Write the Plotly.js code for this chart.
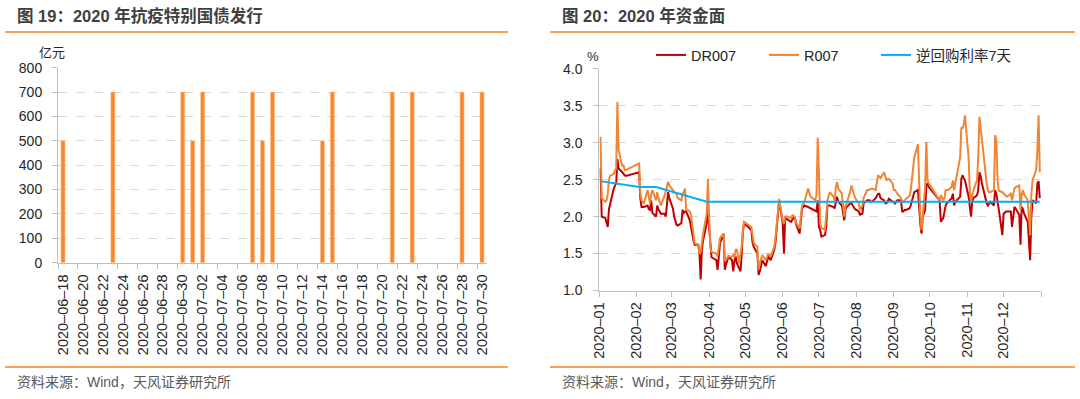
<!DOCTYPE html>
<html><head><meta charset="utf-8">
<script src="https://cdn.plot.ly/plotly-3.0.1.min.js"></script>
<style>html,body{margin:0;padding:0;background:#fff;overflow:hidden;} #chart{width:1080px;height:399px;}</style>
</head><body><div id="chart"></div>
<script>
// ---------- Figure 19: special treasury bond issuance (亿元) ----------
const bondDates = ['2020-06-18','2020-06-23','2020-06-30','2020-07-01','2020-07-02','2020-07-07','2020-07-08',
  '2020-07-09','2020-07-14','2020-07-15','2020-07-21','2020-07-23','2020-07-28','2020-07-30'];
const bondValues = [500,700,700,500,700,700,500,700,500,700,700,700,700,700];
const bondTickDates = ['2020-06-18','2020-06-20','2020-06-22','2020-06-24','2020-06-26','2020-06-28','2020-06-30',
  '2020-07-02','2020-07-04','2020-07-06','2020-07-08','2020-07-10','2020-07-12','2020-07-14','2020-07-16',
  '2020-07-18','2020-07-20','2020-07-22','2020-07-24','2020-07-26','2020-07-28','2020-07-30'];

// ---------- Figure 20: money market rates (%) ----------
const monthTicks = ['2020-01-01','2020-02-01','2020-03-01','2020-04-01','2020-05-01','2020-06-01','2020-07-01',
  '2020-08-01','2020-09-01','2020-10-01','2020-11-01','2020-12-01','2021-01-01'];
const monthTickLabels = ['2020–01','2020–02','2020–03','2020–04','2020–05','2020–06','2020–07',
  '2020–08','2020–09','2020–10','2020–11','2020–12',''];

const rateDays = ['01-02','01-03','01-06','01-07','01-08','01-09','01-10','01-13','01-14','01-15','01-16','01-17',
  '01-20','01-21','01-22','01-23','02-03','02-04','02-05','02-07','02-10','02-11','02-12','02-13','02-14',
  '02-17','02-18','02-19','02-20','02-21','02-24','02-25','02-26','02-27','02-28','03-02','03-03','03-05',
  '03-06','03-09','03-10','03-11','03-12','03-13','03-16','03-17','03-18','03-19','03-20','03-23','03-24',
  '03-25','03-26','03-27','03-30','03-31','04-01','04-02','04-03','04-07','04-08','04-09','04-10','04-13',
  '04-14','04-15','04-17','04-20','04-21','04-22','04-23','04-24','04-26','04-27','04-28','04-29','04-30',
  '05-06','05-07','05-08','05-11','05-12','05-13','05-14','05-15','05-18','05-19','05-20','05-22','05-25',
  '05-26','05-27','05-28','05-29','06-01','06-02','06-03','06-04','06-08','06-09','06-11','06-12','06-15',
  '06-17','06-19','06-22','06-24','06-28','06-29','06-30','07-01','07-02','07-03','07-06','07-07','07-08',
  '07-09','07-10','07-13','07-14','07-15','07-16','07-17','07-20','07-21','07-22','07-23','07-24','07-27',
  '07-28','07-29','07-30','07-31','08-03','08-04','08-05','08-06','08-07','08-10','08-11','08-12','08-13',
  '08-14','08-17','08-18','08-19','08-20','08-21','08-24','08-25','08-26','08-27','08-28','08-31','09-01',
  '09-02','09-03','09-04','09-07','09-08','09-09','09-10','09-11','09-14','09-15','09-16','09-17','09-18',
  '09-21','09-22','09-23','09-24','09-25','09-27','09-28','09-29','09-30','10-09','10-10','10-12','10-13',
  '10-14','10-15','10-16','10-19','10-20','10-21','10-22','10-23','10-26','10-27','10-28','10-29','10-30',
  '11-02','11-03','11-04','11-05','11-06','11-09','11-10','11-11','11-12','11-13','11-16','11-17','11-18',
  '11-19','11-20','11-23','11-24','11-25','11-26','11-27','11-30','12-01','12-02','12-03','12-04','12-07',
  '12-08','12-09','12-10','12-11','12-14','12-15','12-16','12-17','12-18','12-21','12-22','12-23','12-24',
  '12-25','12-28','12-29','12-30','12-31'];
const dr007 = [2.65,2.00,1.98,1.90,1.86,2.10,2.18,2.38,2.42,2.45,2.78,2.65,
  2.60,2.57,2.56,2.55,2.60,2.25,2.13,2.13,2.15,2.10,2.09,2.22,2.05,
  2.00,2.15,2.10,2.07,2.04,2.04,2.00,2.15,2.33,2.25,2.11,2.00,1.89,
  1.88,1.91,2.09,2.05,2.07,2.07,1.95,1.85,1.73,1.68,1.62,1.62,1.50,
  1.15,1.55,1.68,1.91,2.13,1.85,1.59,1.45,1.41,1.28,1.45,1.64,1.77,
  1.28,1.35,1.46,1.41,1.26,1.40,1.46,1.37,1.30,1.26,1.50,1.80,1.91,
  1.82,1.65,1.59,1.50,1.21,1.26,1.35,1.41,1.33,1.40,1.46,1.41,1.55,
  1.65,1.82,2.00,2.22,1.91,1.50,1.98,1.97,1.93,1.96,2.00,1.90,1.77,
  2.11,2.15,2.13,2.11,2.07,2.07,2.22,1.86,1.82,1.73,1.75,1.85,2.15,
  2.15,2.15,2.13,2.11,2.20,2.27,2.20,2.15,2.05,1.95,2.10,2.13,2.18,
  2.18,2.15,2.13,2.10,2.07,2.02,2.04,2.04,2.18,2.22,2.22,2.22,2.20,
  2.20,2.25,2.28,2.31,2.31,2.25,2.22,2.18,2.18,2.22,2.24,2.20,2.20,
  2.18,2.20,2.22,2.22,2.07,2.07,2.09,2.09,2.11,2.15,2.20,2.27,2.33,
  2.36,2.09,1.90,1.77,2.00,2.09,2.42,2.45,2.40,2.22,1.93,1.98,2.10,
  2.15,2.18,2.20,2.25,2.31,2.15,2.20,2.22,2.27,2.51,2.56,2.52,2.49,
  2.27,2.10,2.00,2.20,2.25,2.29,2.36,2.60,2.55,2.45,2.22,2.18,2.15,
  2.18,2.20,2.15,2.36,2.31,2.18,2.10,1.75,2.04,2.05,2.07,2.07,2.07,
  1.86,2.05,2.13,2.11,2.02,1.62,2.13,2.10,2.04,1.93,1.70,1.41,2.00,
  2.22,2.18,2.45,2.48,2.25];
const r007 = [3.08,2.25,2.20,2.22,2.30,2.50,2.55,2.58,2.62,2.65,3.55,2.90,
  2.68,2.70,2.63,2.63,2.72,2.32,2.22,2.18,2.36,2.25,2.18,2.30,2.36,
  2.22,2.33,2.25,2.20,2.15,2.28,2.33,2.40,2.47,2.42,2.36,2.33,2.31,
  2.25,2.22,2.31,2.33,2.38,2.10,2.07,2.02,1.90,1.75,1.64,1.62,1.50,
  1.52,1.65,1.77,2.04,2.51,2.00,1.59,1.52,1.50,1.46,1.60,1.71,1.77,
  1.41,1.42,1.46,1.46,1.48,1.45,1.55,1.55,1.37,1.50,1.59,1.80,1.93,
  1.86,1.70,1.64,1.59,1.28,1.37,1.42,1.48,1.41,1.45,1.50,1.46,1.59,
  1.72,1.91,2.05,2.24,1.95,1.90,2.00,2.00,1.98,2.02,2.00,1.92,1.84,
  2.15,2.20,2.38,2.27,2.22,2.30,3.07,2.58,1.91,1.85,1.82,2.00,2.22,
  2.28,2.33,2.27,2.22,2.40,2.47,2.38,2.31,2.15,2.00,2.15,2.18,2.35,
  2.42,2.36,2.31,2.25,2.18,2.09,2.12,2.15,2.25,2.36,2.36,2.37,2.38,
  2.38,2.36,2.45,2.56,2.54,2.52,2.60,2.52,2.49,2.51,2.51,2.45,2.36,
  2.36,2.33,2.31,2.25,2.20,2.20,2.22,2.24,2.28,2.35,2.50,2.67,2.80,
  2.98,2.36,2.00,1.82,2.00,2.40,3.01,2.49,2.45,2.22,2.29,2.22,2.25,
  2.36,2.36,2.36,2.40,2.49,2.36,2.45,2.54,2.80,3.21,3.19,3.25,3.37,
  2.80,2.36,2.20,2.30,2.36,2.49,2.80,3.35,3.20,3.03,2.54,2.45,2.36,
  2.33,2.33,2.36,3.10,3.03,2.49,2.35,2.33,2.31,2.30,2.28,2.27,2.31,
  2.22,2.30,2.38,2.40,2.42,2.09,2.30,2.36,2.30,2.22,2.00,1.75,2.30,
  2.49,2.63,2.90,3.37,2.60];
const repoDates = ['2020-01-02','2020-02-03','2020-02-17','2020-03-30','2020-12-31'];
const repoRate = [2.48,2.40,2.40,2.20,2.20];

// ---------- layout helpers ----------
const W = 1080, H = 399;
const fx = v => v / W;           // pixel -> paper x
const fy = v => 1 - v / H;       // pixel -> paper y
const FONT = 'Arial, "Liberation Sans", "Noto Sans CJK SC", sans-serif';
const ORANGE = '#F58220';

function halfDayBefore(d) {
  const t = new Date(d + 'T00:00:00Z');
  t.setUTCHours(t.getUTCHours() - 12);
  return t.toISOString().slice(0, 16).replace('T', ' ');
}

const rateX = rateDays.map(d => '2020-' + d);

const traces = [
  { type: 'bar', x: bondDates, y: bondValues, xaxis: 'x', yaxis: 'y', width: 3.5e7,
    marker: { color: '#F7882F', line: { color: '#FBC28F', width: 0.6 } }, showlegend: false, hoverinfo: 'skip' },
  { type: 'scatter', mode: 'lines', name: 'DR007', x: rateX, y: dr007, xaxis: 'x2', yaxis: 'y2',
    line: { color: '#C00000', width: 2 }, legend: 'legend' },
  { type: 'scatter', mode: 'lines', name: 'R007', x: rateX, y: r007, xaxis: 'x2', yaxis: 'y2',
    line: { color: '#EF8535', width: 2 }, legend: 'legend2' },
  { type: 'scatter', mode: 'lines', name: '逆回购利率7天', x: repoDates, y: repoRate, xaxis: 'x2', yaxis: 'y2',
    line: { color: '#00B0F0', width: 2 }, legend: 'legend3' }
];

const axisCommon = {
  showline: true, linecolor: '#BFBFBF', linewidth: 1,
  ticks: 'outside', ticklen: 5, tickcolor: '#BFBFBF', tickwidth: 1,
  tickfont: { family: FONT, size: 14, color: '#262626' },
  zeroline: false, fixedrange: true
};
const xTickFont = { family: FONT, size: 14.5, color: '#262626' };

const legendCommon = { orientation: 'h', yanchor: 'middle', xanchor: 'left', bgcolor: 'rgba(0,0,0,0)',
  font: { family: FONT, size: 14.5, color: '#262626' }, borderwidth: 0 };

const layout = {
  width: W, height: H, margin: { l: 0, r: 0, t: 0, b: 0 },
  paper_bgcolor: '#fff', plot_bgcolor: '#fff',
  font: { family: FONT, color: '#262626' },
  bargap: 0,
  xaxis: Object.assign({}, axisCommon, {
    domain: [fx(58), fx(487)], anchor: 'y', type: 'date',
    range: ['2020-06-17 12:00', '2020-07-30 12:00'],
    tickmode: 'array', tickvals: bondTickDates.map(halfDayBefore),
    ticktext: bondTickDates.map(d => d.replace(/-/g, '–')),
    ticklabelshift: 5, tickangle: -90, showgrid: false, tickfont: xTickFont
  }),
  yaxis: Object.assign({}, axisCommon, {
    domain: [fy(262.7), fy(67.7)], anchor: 'x', range: [0, 800], dtick: 100, tick0: 0,
    ticklabelstandoff: 7,
    showgrid: true, gridcolor: '#D9D9D9', gridwidth: 1, griddash: 'dash'
  }),
  xaxis2: Object.assign({}, axisCommon, {
    domain: [fx(599.3), fx(1041)], anchor: 'y2', type: 'date',
    range: ['2020-01-01', '2021-01-01'],
    tickmode: 'array', tickvals: monthTicks, ticktext: monthTickLabels,
    tickangle: -90, showgrid: false, tickfont: xTickFont
  }),
  yaxis2: Object.assign({}, axisCommon, {
    domain: [fy(290.5), fy(68.8)], anchor: 'x2', range: [1, 4], dtick: 0.5, tick0: 1, tickformat: '.1f',
    ticklabelstandoff: 8,
    showgrid: true, gridcolor: '#D9D9D9', gridwidth: 1, griddash: 'dash'
  }),
  legend: Object.assign({}, legendCommon, { x: fx(651), y: fy(55) }),
  legend2: Object.assign({}, legendCommon, { x: fx(764), y: fy(55) }),
  legend3: Object.assign({}, legendCommon, { x: fx(876), y: fy(55) }),
  shapes: [
    { type: 'line', xref: 'paper', yref: 'paper', x0: fx(5), x1: fx(508), y0: fy(32), y1: fy(32), line: { color: ORANGE, width: 1.5 } },
    { type: 'line', xref: 'paper', yref: 'paper', x0: fx(550), x1: fx(1075), y0: fy(32), y1: fy(32), line: { color: ORANGE, width: 1.5 } },
    { type: 'line', xref: 'paper', yref: 'paper', x0: fx(5), x1: fx(508), y0: fy(367), y1: fy(367), line: { color: ORANGE, width: 1.5 } },
    { type: 'line', xref: 'paper', yref: 'paper', x0: fx(550), x1: fx(1075), y0: fy(367), y1: fy(367), line: { color: ORANGE, width: 1.5 } }
  ],
  annotations: [
    { text: '<b>图 19：2020 年抗疫特别国债发行</b>', xref: 'paper', yref: 'paper', x: fx(15), y: fy(15),
      xanchor: 'left', yanchor: 'middle', showarrow: false, font: { family: FONT, size: 16.5, color: '#404040' } },
    { text: '<b>图 20：2020 年资金面</b>', xref: 'paper', yref: 'paper', x: fx(560), y: fy(15),
      xanchor: 'left', yanchor: 'middle', showarrow: false, font: { family: FONT, size: 16.5, color: '#404040' } },
    { text: '亿元', xref: 'paper', yref: 'paper', x: fx(37), y: fy(52),
      xanchor: 'left', yanchor: 'middle', showarrow: false, font: { family: FONT, size: 13, color: '#262626' } },
    { text: '%', xref: 'paper', yref: 'paper', x: fx(585), y: fy(57),
      xanchor: 'left', yanchor: 'middle', showarrow: false, font: { family: FONT, size: 13, color: '#262626' } },
    { text: '资料来源：Wind，天风证券研究所', xref: 'paper', yref: 'paper', x: fx(15), y: fy(382),
      xanchor: 'left', yanchor: 'middle', showarrow: false, font: { family: FONT, size: 14, color: '#595959' } },
    { text: '资料来源：Wind，天风证券研究所', xref: 'paper', yref: 'paper', x: fx(560), y: fy(382),
      xanchor: 'left', yanchor: 'middle', showarrow: false, font: { family: FONT, size: 14, color: '#595959' } }
  ]
};

Plotly.newPlot('chart', traces, layout, { staticPlot: true, displayModeBar: false });
</script></body></html>
